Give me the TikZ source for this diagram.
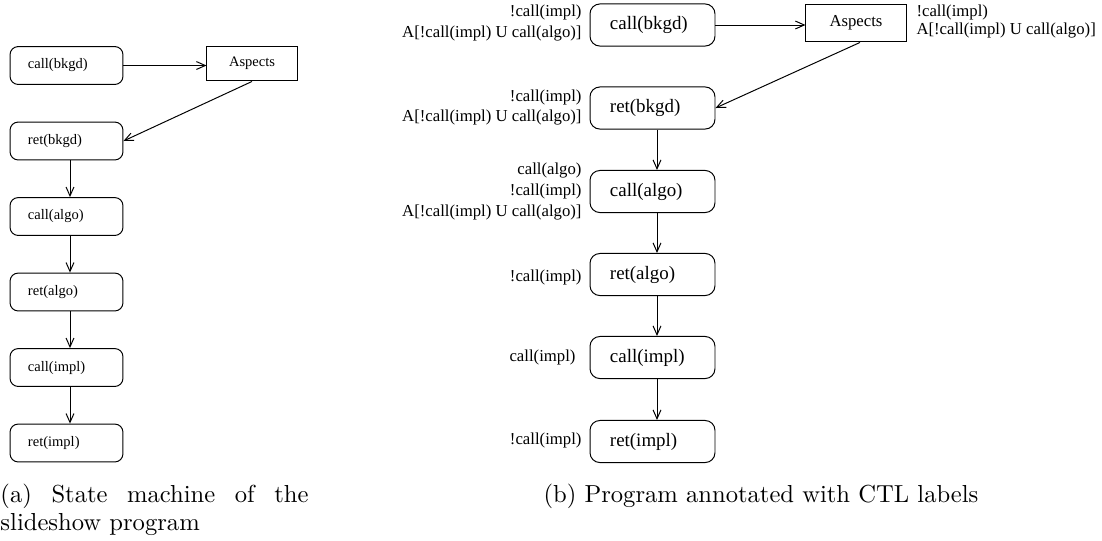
\documentclass[tikz,border=0pt]{standalone}
\usepackage{fontspec}
\newfontfamily\tms{Liberation Serif}
\usetikzlibrary{arrows.meta}

\begin{document}
\begin{tikzpicture}[x=0.4065pt, y=-0.4065pt,
  >={Straight Barb[length=3.6pt,width=3.2pt]},
  every path/.style={line width=0.4pt},
  % states of the small machine (a)
  lstate/.style={draw, line width=0.4pt, rounded corners=3.3pt, align=left, text width=31.3pt,
    inner xsep=7.3pt, inner ysep=0pt, minimum height=15.4pt,
    font=\tms\fontsize{5.9}{7}\selectfont},
  lbox/.style={draw, line width=0.4pt, inner sep=0pt, minimum width=36.6pt, minimum height=14.2pt,
    font=\tms\fontsize{5.9}{7}\selectfont},
  % states of the annotated machine (b)
  rstate/.style={draw, line width=0.4pt, rounded corners=4pt, align=left, text width=34.6pt,
    inner xsep=8.1pt, inner ysep=0pt, minimum height=17.1pt,
    font=\tms\fontsize{7.7}{9}\selectfont},
  rbox/.style={draw, line width=0.4pt, inner sep=0pt, minimum width=40.7pt, minimum height=15.4pt,
    font=\tms\fontsize{6.8}{8}\selectfont},
  ctl/.style={inner sep=0pt, anchor=east, align=right,
    font=\tms\fontsize{6.8}{8.4}\selectfont},
  caption/.style={inner sep=0pt, anchor=base west, font=\fontsize{10}{11.4}\selectfont}
]
\useasboundingbox (0,0) rectangle (1102,540);

% ---------- (a) state machine ----------
\node[lstate] (lcb) at (66.5,65.5) {call(bkgd)};
\node[lbox]   (lasp) at (252,63.5) {Aspects};
\node[lstate] (lrb) at (66.5,141)  {ret(bkgd)};
\node[lstate] (lca) at (66.5,216.5){call(algo)};
\node[lstate] (lra) at (66.5,292)  {ret(algo)};
\node[lstate] (lci) at (66.5,367.5){call(impl)};
\node[lstate] (lri) at (66.5,443)  {ret(impl)};
\coordinate (lax) at (70,0);

\draw[->] (lcb.east) -- (lcb.east -| lasp.west);
\draw[->] (lasp.south) -- (lrb.east);
\draw[->] (lrb.south -| lax) -- (lca.north -| lax);
\draw[->] (lca.south -| lax) -- (lra.north -| lax);
\draw[->] (lra.south -| lax) -- (lci.north -| lax);
\draw[->] (lci.south -| lax) -- (lri.north -| lax);

\node[caption] (capa) at (0,502)
  {\parbox[t]{125.2pt}{\makebox[125.2pt][s]{(a) State machine of the}\\slideshow program}};

% ---------- (b) annotated program ----------
\node[rstate] (rcb) at (652.5,25)   {call(bkgd)};
\node[rbox]   (rasp) at (856,23)    {Aspects};
\node[rstate] (rrb) at (652.5,108)  {ret(bkgd)};
\node[rstate] (rca) at (652.5,191.5){call(algo)};
\node[rstate] (rra) at (652.5,274.5){ret(algo)};
\node[rstate] (rci) at (652.5,357.5){call(impl)};
\node[rstate] (rri) at (652.5,441.5){ret(impl)};
\coordinate (rax) at (657,0);
\coordinate (rasx) at (860,0);

\draw[->] (rcb.east) -- (rcb.east -| rasp.west);
\draw[->] (rasp.south -| rasx) -- (rrb.east);
\draw[->] (rrb.south -| rax) -- (rca.north -| rax);
\draw[->] (rca.south -| rax) -- (rra.north -| rax);
\draw[->] (rra.south -| rax) -- (rci.north -| rax);
\draw[->] (rci.south -| rax) -- (rri.north -| rax);

% CTL labels
\node[ctl] (tcb) at (582,23)    {!call(impl)\\A[!call(impl) U call(algo)]};
\node[ctl] (trb) at (582,107.5) {!call(impl)\\A[!call(impl) U call(algo)]};
\node[ctl] (tca) at (582,191.5) {call(algo)\\!call(impl)\\A[!call(impl) U call(algo)]};
\node[ctl] (tra) at (582,277)   {!call(impl)};
\node[ctl] (tci) at (576,357)   {call(impl)};
\node[ctl] (tri) at (582,440)   {!call(impl)};
\node[ctl, anchor=west, align=left, font=\tms\fontsize{6.8}{7.4}\selectfont]
  (tasp) at (916,21.5) {!call(impl)\\A[!call(impl) U call(algo)]};

\node[caption] (capb) at (543,502) {(b) Program annotated with CTL labels};
\end{tikzpicture}
\end{document}
